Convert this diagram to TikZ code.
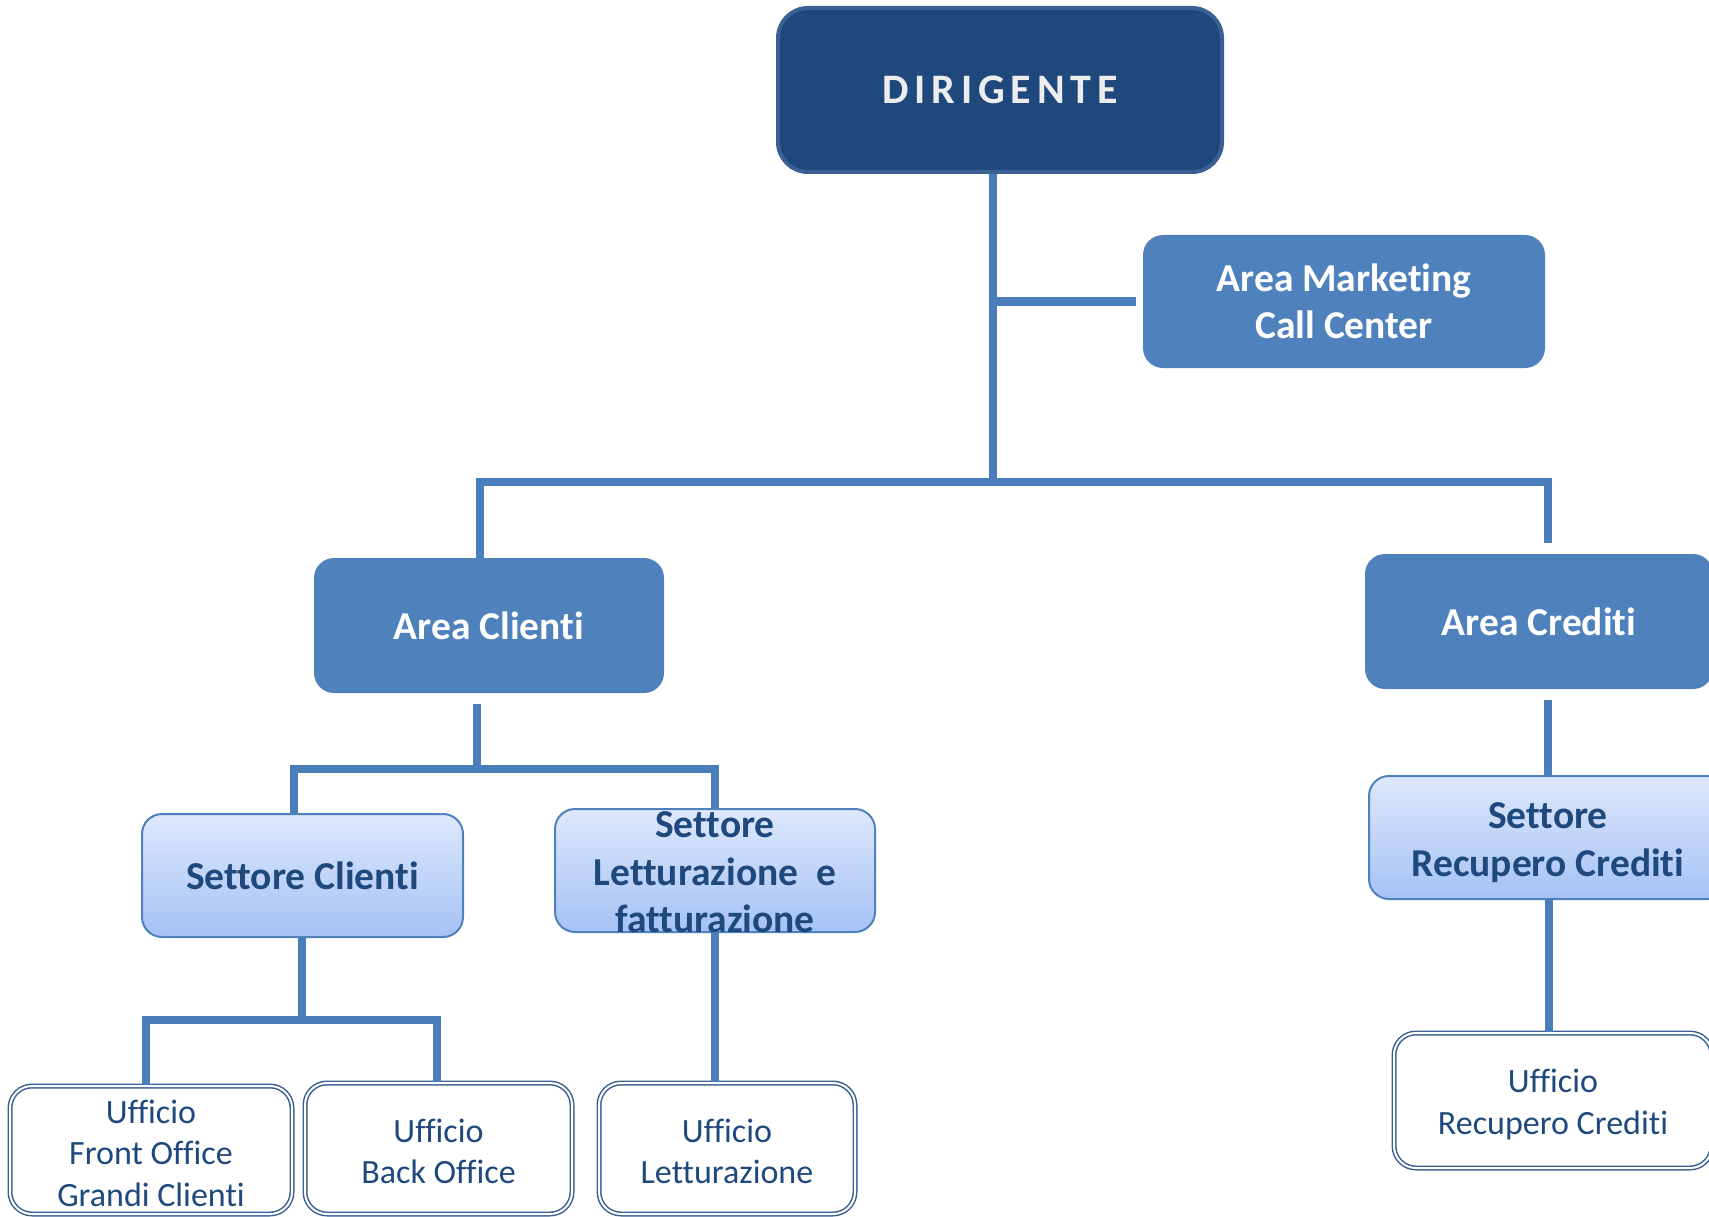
\documentclass[tikz,border=0pt]{standalone}
\usepackage{fontspec}
\setmainfont{Carlito}[Ligatures=NoCommon]
\newfontfamily\dirfont[LetterSpace=14,Ligatures=NoCommon]{Carlito}
\usetikzlibrary{calc}
\definecolor{navy}{HTML}{1F497D}
\definecolor{navyedge}{HTML}{3B6192}
\definecolor{midblue}{HTML}{4F81BD}
\definecolor{linkblue}{HTML}{4A7EBB}
\definecolor{darktext}{HTML}{1F497D}
\definecolor{paletop}{HTML}{DDE8FC}
\definecolor{palebot}{HTML}{A5C2F5}
\begin{document}
\begin{tikzpicture}[x=1pt,y=-1pt,
  boxbase/.style={rounded corners=20pt, inner sep=0pt, align=center},
  topbox/.style={boxbase, rounded corners=30pt, fill=navy, draw=navyedge, line width=4pt, text=white!93!black},
  areabox/.style={boxbase, fill=midblue, text=white, font=\bfseries\fontsize{39.5}{47.5}\selectfont},
  sectbox/.style={boxbase, top color=paletop, bottom color=palebot, draw=midblue, line width=2pt},
  secttext/.style={align=center, inner sep=0pt, text=darktext, font=\bfseries\fontsize{39.5}{47.5}\selectfont},
  officebox/.style={boxbase, rounded corners=22pt, draw=navyedge, double=white, line width=1.5pt, double distance=2pt},
  officetext/.style={align=center, inner sep=0pt, text=darktext, font=\fontsize{34}{41.5}\selectfont},
  conn/.style={draw=linkblue, line width=8pt, line cap=butt, line join=miter}
]
\path[use as bounding box] (0,0) rectangle (1709,1217);

% management
\node[topbox, minimum width=444pt, minimum height=164pt] (dir) at (1000,90)
  {\dirfont\bfseries\fontsize{42}{50}\selectfont DIRIGENTE};

% areas
\node[areabox, minimum width=402pt, minimum height=133pt] (mkt) at (1344,301.5)
  {Area Marketing\\Call Center};
\node[areabox, minimum width=350pt, minimum height=135pt] (acl) at (489,625.5)
  {Area Clienti};
\node[areabox, minimum width=348pt, minimum height=135pt] (acr) at (1539,621.5)
  {Area Crediti};

% sectors
\node[sectbox, secttext, minimum width=321pt, minimum height=123pt] (scl) at (302.5,875.5)
  {Settore Clienti};
\node[sectbox, minimum width=320pt, minimum height=123pt] (slf) at (715,870.5) {};
\node[secttext] (slftext) at ($(slf.center)+(0,2)$) {Settore\\Letturazione\ \ e\\fatturazione};
\node[sectbox, minimum width=358pt, minimum height=123pt] (src) at (1548,837.5) {};
\node[secttext] (srctext) at ($(src.center)+(0,5)$) {Settore\\Recupero Crediti};

% offices
\node[officebox, minimum width=282pt, minimum height=128pt] (ufo) at (151,1150) {};
\node[officetext] (ufotext) at ($(ufo.center)+(0,3)$) {Ufficio\\Front Office\\Grandi Clienti};
\node[officebox, minimum width=267pt, minimum height=131pt] (ubo) at (438.5,1148.5) {};
\node[officetext] (ubotext) at ($(ubo.center)+(0,3)$) {Ufficio\\Back Office};
\node[officebox, minimum width=256pt, minimum height=131pt] (ule) at (727,1148.5) {};
\node[officetext] (uletext) at ($(ule.center)+(0,3)$) {Ufficio\\Letturazione};
\node[officebox, minimum width=318pt, minimum height=135pt] (urc) at (1553,1100.5) {};
\node[officetext] (urctext) at ($(urc.center)+(0,4)$) {Ufficio\\Recupero Crediti};

% junction points
\coordinate (trunk) at (993,482);
\coordinate (barL) at (480,482);
\coordinate (barR) at (1548,482);
\coordinate (cj) at (477,769);
\coordinate (sbL) at (294,769);
\coordinate (sbR) at (715,769);
\coordinate (tj) at (302,1020);
\coordinate (tbL) at (146,1020);
\coordinate (tbR) at (437,1020);

% connectors
\draw[conn] (trunk |- dir.south) -- (trunk);
\draw[conn] (trunk |- mkt.west) -- ($(mkt.west)+(-7,0)$);
\draw[conn] (barL |- acl.north) -- (barL) -- (barR) -- ($(barR |- acr.north)+(0,-11)$);
\draw[conn] ($(cj |- acl.south)+(0,11)$) -- (cj);
\draw[conn] (sbL |- scl.north) -- (sbL) -- (sbR) -- (sbR |- slf.north);
\draw[conn] (tj |- scl.south) -- (tj);
\draw[conn] (tbL |- ufo.north) -- (tbL) -- (tbR) -- (tbR |- ubo.north);
\draw[conn] (sbR |- slf.south) -- (sbR |- ule.north);
\draw[conn] ($(barR |- acr.south)+(0,11)$) -- (barR |- src.north);
\draw[conn] ($(src.south)+(1,0)$) -- ($(src.south |- urc.north)+(1,0)$);
\end{tikzpicture}
\end{document}
